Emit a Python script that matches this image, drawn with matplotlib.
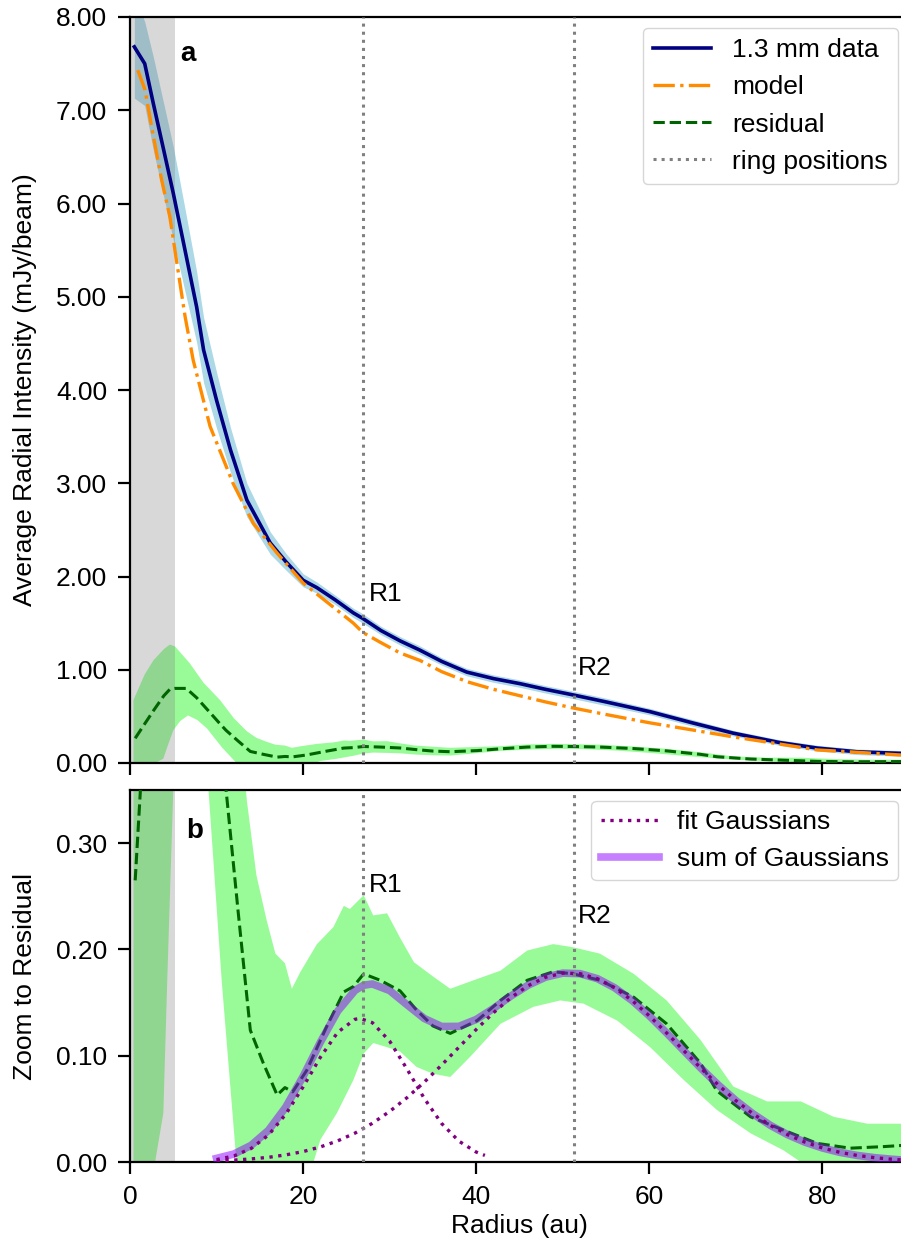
import numpy as np
import matplotlib
matplotlib.use("Agg")
import matplotlib.pyplot as plt
from matplotlib.ticker import FormatStrFormatter

plt.rcParams['font.family'] = ['Liberation Sans', 'DejaVu Sans']
plt.rcParams['font.size'] = 19

# ---------------- data ----------------
# 1.3 mm data profile (mJy/beam)
data_r = [0.5, 1.7, 2.7, 3.9, 5.0, 6.2, 7.7, 8.5, 10.0, 11.6, 13.5, 16.2, 18.0, 20.0, 21.6, 23.7,
          25.8, 26.9, 29.0, 31.2, 33.5, 36.0, 38.9, 42.0, 45.1, 48.0, 51.2, 55.0, 60.1, 65.0,
          69.7, 75.0, 79.4, 84.0, 90.0]
data_v = [7.68, 7.50, 7.07, 6.57, 6.11, 5.57, 4.89, 4.43, 3.89, 3.36, 2.82, 2.36, 2.16, 1.96, 1.88,
          1.75, 1.61, 1.55, 1.42, 1.31, 1.21, 1.09, 0.975, 0.905, 0.85, 0.79, 0.73, 0.655, 0.55,
          0.43, 0.32, 0.22, 0.16, 0.12, 0.10]
data_err = [0.55, 0.45, 0.50, 0.50, 0.50, 0.45, 0.38, 0.35, 0.30, 0.24, 0.18, 0.12, 0.09, 0.07,
            0.06, 0.05, 0.05, 0.05, 0.045, 0.045, 0.045, 0.04, 0.04, 0.04, 0.04, 0.04, 0.04, 0.04,
            0.035, 0.035, 0.03, 0.03, 0.03, 0.03, 0.03]

# model profile
model_r = [0.9, 1.73, 2.7, 3.66, 4.6, 5.6, 6.36, 7.3, 9.25, 11.9, 14.25, 17.0, 20.0, 22.9, 25.8,
           26.9, 29.0, 31.2, 33.5, 36.0, 39.0, 42.0, 45.1, 48.0, 51.2, 55.0, 60.1, 65.0, 69.7,
           75.0, 79.4, 84.0, 90.0]
model_v = [7.43, 7.22, 6.72, 6.25, 5.86, 5.25, 4.79, 4.32, 3.61, 3.00, 2.57, 2.25, 1.93, 1.715, 1.50,
           1.40, 1.29, 1.18, 1.10, 0.98, 0.87, 0.79, 0.72, 0.655, 0.59, 0.52, 0.43, 0.354, 0.28,
           0.204, 0.14, 0.115, 0.08]

# residual profile
res_r = [0.6, 1.7, 2.7, 3.9, 4.6, 5.2, 6.5, 7.7, 9.25, 10.4, 11.1, 12.5, 13.9, 15.4, 17.0, 17.9,
         18.8, 20.4, 22.7, 24.7, 25.8, 27.0, 28.9, 31.2, 33.1, 35.0, 37.0, 40.1, 42.8, 45.9, 48.9,
         51.2, 54.3, 58.2, 62.0, 65.9, 67.8, 71.7, 75.5, 79.4, 83.2, 87.1, 90.0]
res_v = [0.265, 0.42, 0.56, 0.72, 0.79, 0.80, 0.80, 0.70, 0.54, 0.42, 0.35, 0.235, 0.124, 0.093,
         0.063, 0.070, 0.066, 0.086, 0.127, 0.160, 0.165, 0.177, 0.171, 0.161, 0.143, 0.128, 0.121,
         0.133, 0.152, 0.171, 0.179, 0.177, 0.171, 0.155, 0.130, 0.093, 0.067, 0.0425, 0.030,
         0.0175, 0.013, 0.0145, 0.016]

# residual uncertainty band: upper and lower edges
res_hi_r = [0.4, 1.7, 2.7, 3.9, 4.6, 5.2, 6.9, 8.5, 10.4, 12.0, 13.5, 14.6, 15.8, 16.8, 17.9, 18.7,
            19.7, 21.6, 23.5, 24.7, 25.4, 27.0, 28.1, 29.7, 31.2, 32.8, 35.1, 37.0, 39.7, 42.8,
            45.9, 48.9, 51.2, 54.3, 58.2, 62.0, 65.9, 69.7, 73.6, 77.5, 81.3, 85.2, 90.0]
res_hi_v = [0.675, 0.95, 1.10, 1.22, 1.27, 1.25, 1.07, 0.86, 0.675, 0.48, 0.34, 0.27, 0.227, 0.196,
            0.187, 0.163, 0.179, 0.205, 0.221, 0.241, 0.238, 0.251, 0.232, 0.234, 0.211, 0.188,
            0.174, 0.163, 0.171, 0.180, 0.199, 0.205, 0.202, 0.196, 0.177, 0.152, 0.115, 0.071,
            0.057, 0.057, 0.0425, 0.036, 0.036]
res_lo_r = [0.4, 2.9, 3.85, 4.3, 5.0, 5.8, 6.7, 7.8, 8.9, 10.6, 12.3, 16.0, 21.2, 22.0, 23.9, 25.8,
            27.0, 28.1, 29.7, 31.2, 33.1, 35.0, 37.0, 39.3, 42.8, 46.6, 49.7, 52.4, 56.3, 60.1,
            64.0, 67.8, 71.7, 75.5, 77.5, 90.0]
res_lo_v = [-0.3, 0.0, 0.046, 0.17, 0.35, 0.45, 0.51, 0.46, 0.37, 0.17, 0.0, -0.05, 0.0, 0.021,
            0.046, 0.077, 0.102, 0.112, 0.108, 0.104, 0.0895, 0.083, 0.080, 0.099, 0.130, 0.146,
            0.152, 0.149, 0.133, 0.108, 0.077, 0.049, 0.027, 0.011, 0.0, -0.01]

# fitted Gaussians
g1_r = [10, 12, 14, 16, 18, 20, 22, 24, 26, 26.6, 28, 30, 32, 34, 36, 38, 40, 41]
g1_v = [0.00225, 0.00568, 0.01275, 0.0254, 0.045, 0.0707, 0.0986, 0.1221, 0.1343, 0.135, 0.1311,
        0.1137, 0.0875, 0.0598, 0.0363, 0.0196, 0.00936, 0.0062]
g2_r = [10, 12, 14, 16, 18, 20, 22, 24, 26, 28, 30, 32, 34, 36, 38, 40, 42, 44, 46, 48, 50, 52,
        54, 56, 58, 60, 62, 64, 66, 68, 70, 72, 74, 76, 78, 80, 82, 84, 86, 88, 90]
g2_v = [0.0011, 0.0018, 0.0029, 0.0044, 0.0067, 0.0098, 0.0142, 0.0199, 0.0272, 0.0364, 0.0476,
        0.0605, 0.0752, 0.0912, 0.108, 0.1247, 0.1405, 0.1546, 0.1659, 0.1738, 0.1777, 0.1772,
        0.1725, 0.1639, 0.152, 0.1375, 0.1214, 0.1046, 0.0879, 0.0722, 0.0578, 0.0452, 0.0344,
        0.0256, 0.0186, 0.0132, 0.0091, 0.0062, 0.0041, 0.0026, 0.0015]
gsum_r = [10, 12, 14, 16, 18, 20, 22, 24, 26, 27, 28, 30, 32, 34, 36, 38, 40, 42, 44, 46, 48, 50,
          52, 54, 56, 58, 60, 62, 64, 66, 68, 70, 72, 74, 76, 78, 80, 82, 84, 86, 88, 90]
gsum_v = [0.0034, 0.0075, 0.0157, 0.0298, 0.0517, 0.0805, 0.1128, 0.142, 0.1615, 0.1663, 0.1675,
          0.1613, 0.148, 0.135, 0.1275, 0.1276, 0.1341, 0.1445, 0.1561, 0.1664, 0.1739, 0.1777,
          0.1772, 0.1725, 0.1639, 0.152, 0.1375, 0.1214, 0.1046, 0.0879, 0.0722, 0.0578, 0.0452,
          0.0344, 0.0256, 0.0186, 0.0132, 0.0091, 0.0062, 0.0041, 0.0026, 0.0015]

ring_pos = [26.9, 51.3]
ring_names = ['R1', 'R2']
beam_span = (0.0, 5.2)

# ---------------- figure ----------------
W, H = 901, 1254
fig = plt.figure(figsize=(W / 100, H / 100), dpi=100)
left_px, right_px = 130, 909
ax1 = fig.add_axes([left_px / W, 1 - 763 / H, (right_px - left_px) / W, (763 - 17) / H])
ax2 = fig.add_axes([left_px / W, 1 - 1162 / H, (right_px - left_px) / W, (1162 - 790) / H])

navy = '#000080'
orange = '#FF8C00'
dgreen = '#006400'
pgreen = '#98FB98'
purple = '#800080'
violet = '#8F00FF'

def polygon(ax, xu, yu, xl, yl, **kw):
    xs = list(xu) + list(xl)[::-1]
    ys = list(yu) + list(yl)[::-1]
    ax.fill(xs, ys, **kw)

# panel a
dv = np.array(data_v)
de = np.array(data_err)
ax1.fill_between(data_r, dv - de, dv + de, color='lightblue', lw=0, zorder=1)
polygon(ax1, res_hi_r, res_hi_v, res_lo_r, res_lo_v, color=pgreen, lw=0, zorder=1)
ax1.axvspan(*beam_span, color='gray', alpha=0.3, lw=0, zorder=1.5)
ax1.plot(data_r, data_v, color=navy, lw=2.6, label='1.3 mm data', zorder=3)
ax1.plot(model_r, model_v, color=orange, lw=2.4, ls='-.', label='model', zorder=3)
ax1.plot(res_r, res_v, color=dgreen, lw=2.2, ls='--', label='residual', zorder=3)
for i, (rp, nm) in enumerate(zip(ring_pos, ring_names)):
    ax1.axvline(rp, color='gray', ls=':', lw=2.2, zorder=4,
                label='ring positions' if i == 0 else None)
ax1.text(27.6, 1.68, 'R1', fontsize=19, va='bottom', ha='left')
ax1.text(51.8, 0.89, 'R2', fontsize=19, va='bottom', ha='left')
ax1.set_xlim(0, 90)
ax1.set_ylim(0, 8)
ax1.set_yticks([0, 1, 2, 3, 4, 5, 6, 7, 8])
ax1.yaxis.set_major_formatter(FormatStrFormatter('%.2f'))
ax1.set_xticks([0, 20, 40, 60, 80])
ax1.tick_params(labelbottom=False)
ax1.set_ylabel('Average Radial Intensity (mJy/beam)')
ax1.text(0.065, 0.95, 'a', transform=ax1.transAxes, fontsize=20, fontweight='bold',
         va='center', ha='left')
ax1.legend(loc='upper right', fontsize=19, handlelength=2.2, borderaxespad=0.4)

# panel b
polygon(ax2, res_hi_r, res_hi_v, res_lo_r, res_lo_v, color=pgreen, lw=0, zorder=1)
ax2.axvspan(*beam_span, color='gray', alpha=0.3, lw=0, zorder=1.5)
ax2.plot(res_r, res_v, color=dgreen, lw=2.2, ls='--', zorder=3)
ax2.plot(gsum_r, gsum_v, color=violet, lw=5.5, alpha=0.5, label='sum of Gaussians', zorder=3.5)
ax2.plot(g1_r, g1_v, color=purple, lw=2.4, ls=':', label='fit Gaussians', zorder=3.6)
ax2.plot(g2_r, g2_v, color=purple, lw=2.4, ls=':', zorder=3.6)
for rp in ring_pos:
    ax2.axvline(rp, color='gray', ls=':', lw=2.2, zorder=4)
ax2.text(27.6, 0.249, 'R1', fontsize=19, va='bottom', ha='left')
ax2.text(51.8, 0.22, 'R2', fontsize=19, va='bottom', ha='left')
ax2.set_xlim(0, 90)
ax2.set_ylim(0, 0.35)
ax2.set_yticks([0, 0.1, 0.2, 0.3])
ax2.yaxis.set_major_formatter(FormatStrFormatter('%.2f'))
ax2.set_xticks([0, 20, 40, 60, 80])
ax2.set_xlabel('Radius (au)')
ax2.set_ylabel('Zoom to Residual')
ax2.text(0.072, 0.89, 'b', transform=ax2.transAxes, fontsize=20, fontweight='bold',
         va='center', ha='left')
h, l = ax2.get_legend_handles_labels()
order = [l.index('fit Gaussians'), l.index('sum of Gaussians')]
ax2.legend([h[i] for i in order], [l[i] for i in order], loc='upper right', fontsize=19,
           handlelength=2.2, borderaxespad=0.4, borderpad=0.35, handletextpad=0.7)

for ax in (ax1, ax2):
    for sp in ax.spines.values():
        sp.set_linewidth(1.6)
    ax.tick_params(direction='out', length=8.5, width=1.6, pad=8)
    ax.yaxis.set_label_coords((37 - left_px) / (right_px - left_px), 0.5)

fig.savefig('out.png', dpi=100)
